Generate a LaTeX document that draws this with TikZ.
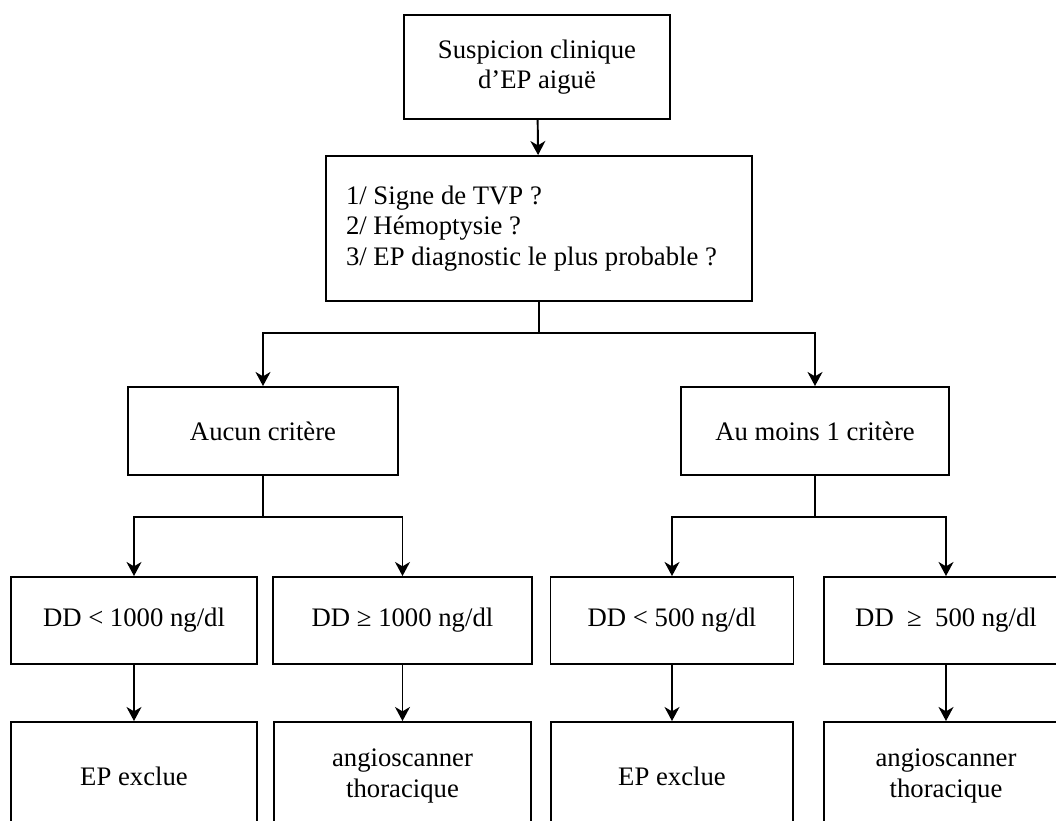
\documentclass[tikz,border=0pt]{standalone}
\usepackage{fontspec}
\setmainfont{Liberation Serif}
\usepackage{tikz}
\usetikzlibrary{arrows.meta}

\tikzset{
	boite/.style={draw, line width=1.1pt, inner sep=0pt, align=center, font=\fontsize{15.2}{17.5}\selectfont},
	fleche/.style={line width=1.1pt, -{Stealth[length=8pt, width=8.5pt, inset=2.5pt]}}
}

\begin{document}
\begin{tikzpicture}[x=0.02cm, y=-0.02cm]
\useasboundingbox (0,0) rectangle (1056,821);
\clip (0,0) rectangle (1056,821);

\node[boite, minimum width=5.32cm, minimum height=2.08cm] (susp) at (537,67) {Suspicion clinique\\d’EP aiguë};
\node[boite, align=flush left, text width=7.72cm, inner xsep=0.4cm, minimum height=2.9cm] (crit) at (539,228.5) {1/ Signe de TVP ?\\2/ Hémoptysie ?\\3/ EP diagnostic le plus probable ?};

\node[boite, minimum width=5.4cm, minimum height=1.76cm] (aucun) at (263,431) {Aucun critère};
\node[boite, minimum width=5.36cm, minimum height=1.76cm] (aumoins) at (815,431) {Au moins 1 critère};

\node[boite, minimum width=4.92cm, minimum height=1.74cm] (dd1) at (134,620.5) {DD < 1000 ng/dl};
\node[boite, minimum width=5.18cm, minimum height=1.74cm] (dd2) at (402.5,620.5) {DD ≥ 1000 ng/dl};
\node[boite, minimum width=4.86cm, minimum height=1.74cm] (dd3) at (672,620.5) {DD < 500 ng/dl};
\node[boite, minimum width=4.88cm, minimum height=1.74cm] (dd4) at (946,620.5) {DD~~≥~~500 ng/dl};

\node[boite, minimum width=4.92cm, minimum height=2.16cm] (ex1) at (134,776) {EP exclue};
\node[boite, minimum width=5.14cm, minimum height=2.16cm] (sc1) at (402.5,776) {angioscanner\\thoracique};
\node[boite, minimum width=4.84cm, minimum height=2.16cm] (ex2) at (672,776) {EP exclue};
\node[boite, minimum width=4.88cm, minimum height=2.16cm] (sc2) at (946,776) {angioscanner\\thoracique};

\draw[fleche] (susp) -- (crit);

\coordinate (j1) at (539,333);
\draw[line width=1.1pt] (crit) -- (j1);
\draw[fleche] (j1) -| (aucun);
\draw[fleche] (j1) -| (aumoins);

\coordinate (j2) at (263,517);
\coordinate (j3) at (815,517);
\draw[line width=1.1pt] (aucun) -- (j2);
\draw[line width=1.1pt] (aumoins) -- (j3);
\draw[fleche] (j2) -| (dd1);
\draw[fleche] (j2) -| (dd2);
\draw[fleche] (j3) -| (dd3);
\draw[fleche] (j3) -| (dd4);

\foreach \a/\b in {dd1/ex1, dd2/sc1, dd3/ex2, dd4/sc2}{
	\draw[fleche] (\a) -- (\b);
}

\end{tikzpicture}
\end{document}
